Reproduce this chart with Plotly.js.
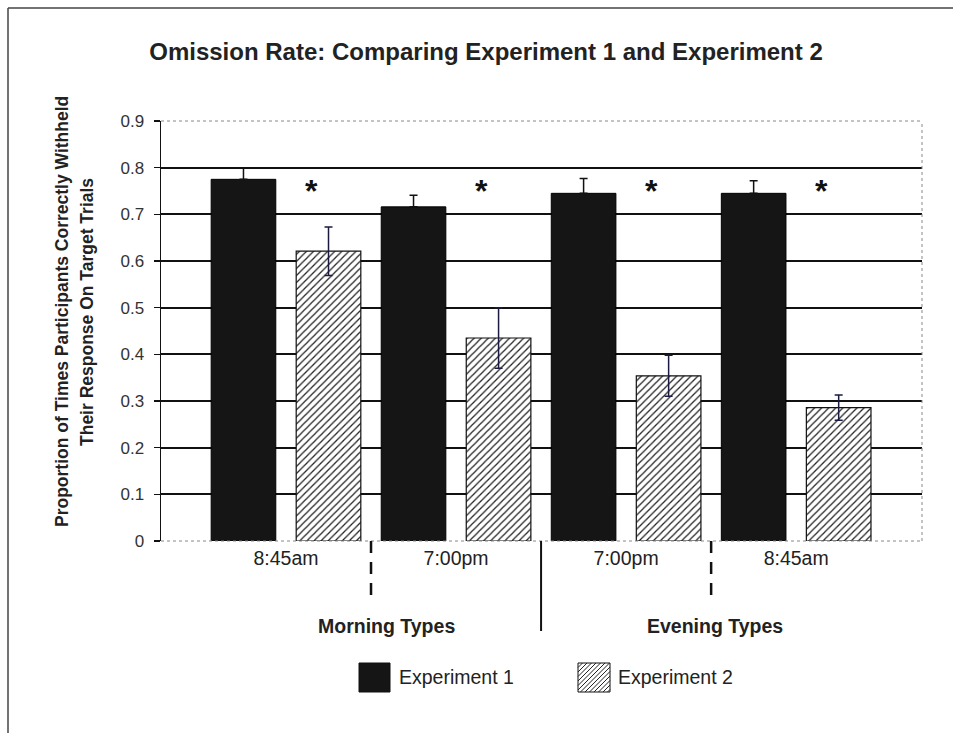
<!DOCTYPE html>
<html>
<head>
<meta charset="utf-8">
<script src="https://cdn.plot.ly/plotly-3.0.1.min.js"></script>
<style>html,body{margin:0;padding:0;background:#fff;}#chart{width:953px;height:733px;}</style>
</head>
<body>
<div id="chart"></div>
<script>
// ---- data ----
const timeLabels = ["8:45am", "7:00pm", "7:00pm", "8:45am"];
const groupLabels = ["Morning Types", "Evening Types"];
const seriesNames = ["Experiment 1", "Experiment 2"];
const exp1Values = [0.775, 0.716, 0.745, 0.745];
const exp1Errors = [0.025, 0.025, 0.032, 0.027];
const exp2Values = [0.621, 0.435, 0.354, 0.286];
const exp2Errors = [0.052, 0.065, 0.044, 0.027];
const significant = [true, true, true, true];
const starLevel = 0.756;
const yTicks = [0, 0.1, 0.2, 0.3, 0.4, 0.5, 0.6, 0.7, 0.8, 0.9];

const xIdx = timeLabels.map((_, i) => i);
const FONT = "Liberation Sans, Arial, sans-serif";

// geometry of plot area in pixels (for paper conversions)
const L = 161, R = 31, T = 121, B = 192, W = 953, H = 733;
const pw = W - L - R, ph = H - T - B;
const px = x => (x - L) / pw;
const py = y => (H - B - y) / ph;

const traces = [
  {
    type: "bar", name: seriesNames[0], x: xIdx, y: exp1Values,
    marker: {color: "#151515", line: {color: "#000", width: 1}},
    error_y: {type: "data", symmetric: false, array: exp1Errors, arrayminus: exp1Errors.map(() => 0),
      visible: true, color: "#111", thickness: 1.5, width: 4},
    showlegend: false, hoverinfo: "y"
  },
  {
    type: "bar", name: seriesNames[1], x: xIdx, y: exp2Values,
    marker: {color: "#ffffff", line: {color: "#111", width: 1.2},
             pattern: {shape: "/", size: 5, solidity: 0.25, fgcolor: "#222", bgcolor: "#ffffff", fillmode: "replace"}},
    error_y: {type: "data", array: exp2Errors, visible: true, color: "#1a1a40", thickness: 1.5, width: 4},
    showlegend: false, hoverinfo: "y"
  }
];

const shapes = [];
const annotations = [];

// plot border (dotted gray top/right/bottom)
shapes.push({type: "line", xref: "paper", yref: "paper", x0: 0, x1: 1, y0: 1, y1: 1, line: {color: "#888", width: 1, dash: "dot"}, layer: "above"});
shapes.push({type: "line", xref: "paper", yref: "paper", x0: 1, x1: 1, y0: 0, y1: 1, line: {color: "#888", width: 1, dash: "dot"}, layer: "above"});
shapes.push({type: "line", xref: "paper", yref: "paper", x0: 0, x1: 1, y0: 0, y1: 0, line: {color: "#888", width: 1, dash: "dot"}, layer: "above"});

// outer frame (top and left)
shapes.push({type: "line", xref: "paper", yref: "paper", x0: px(8), x1: px(960), y0: py(8), y1: py(8), line: {color: "#444", width: 1.5}});
shapes.push({type: "line", xref: "paper", yref: "paper", x0: px(8), x1: px(8), y0: py(8), y1: py(740), line: {color: "#444", width: 1.5}});

// separators between time categories
[0.5, 2.5].forEach(xv => shapes.push({type: "line", xref: "x", yref: "paper", x0: xv, x1: xv, y0: 0, y1: py(595),
  line: {color: "#111", width: 2.5, dash: "12px,9px"}}));
shapes.push({type: "line", xref: "x", yref: "paper", x0: 1.5, x1: 1.5, y0: 0, y1: py(631), line: {color: "#111", width: 2}});

// significance stars
xIdx.forEach((xv, i) => {
  if (significant[i]) annotations.push({x: xv + 0.15, y: starLevel, xref: "x", yref: "y", text: "*", showarrow: false,
    font: {family: FONT, size: 32, color: "#111", weight: "bold"}, yanchor: "middle", yshift: -3});
});

// group labels
annotations.push({x: 0.59, y: py(626), xref: "x", yref: "paper", text: "<b>" + groupLabels[0] + "</b>", showarrow: false,
  font: {family: FONT, size: 19.5, color: "#222"}, yanchor: "middle"});
annotations.push({x: 2.52, y: py(626), xref: "x", yref: "paper", text: "<b>" + groupLabels[1] + "</b>", showarrow: false,
  font: {family: FONT, size: 19.5, color: "#222"}, yanchor: "middle"});

// y axis title (two lines)
annotations.push({x: px(62), y: py(312), xref: "paper", yref: "paper", text: "<b>Proportion of Times Participants Correctly Withheld</b>",
  showarrow: false, textangle: -90, font: {family: FONT, size: 17.5, color: "#222"}, xanchor: "center", yanchor: "middle"});
annotations.push({x: px(87), y: py(312), xref: "paper", yref: "paper", text: "<b>Their Response On Target Trials</b>",
  showarrow: false, textangle: -90, font: {family: FONT, size: 17.5, color: "#222"}, xanchor: "center", yanchor: "middle"});

// legend (drawn manually with large swatches)
function sq(x0, y0, x1, y1, fill) {
  shapes.push({type: "rect", xref: "paper", yref: "paper", x0: px(x0), x1: px(x1), y0: py(y1), y1: py(y0),
    fillcolor: fill, line: {color: "#111", width: 1}});
}
sq(359, 663, 390, 692, "#151515");
sq(578, 663, 610, 692, "#ffffff");
// hatch lines in second swatch
(function () {
  const x0 = 578, x1 = 610, y0 = 663, y1 = 692, step = 4.5;
  let d = "";
  for (let c = x0 - (y1 - y0) + step; c < x1; c += step) {
    let ax = c, ay = y1, bx = c + (y1 - y0), by = y0;
    if (ax < x0) { ay -= (x0 - ax); ax = x0; }
    if (bx > x1) { by += (bx - x1); bx = x1; }
    d += "M" + px(ax) + "," + py(ay) + "L" + px(bx) + "," + py(by);
  }
  shapes.push({type: "path", xref: "paper", yref: "paper", path: d, line: {color: "#222", width: 1}});
})();
annotations.push({x: px(397), y: py(677), xref: "paper", yref: "paper", text: seriesNames[0], showarrow: false,
  font: {family: FONT, size: 19.5, color: "#222"}, xanchor: "left", yanchor: "middle"});
annotations.push({x: px(616), y: py(677), xref: "paper", yref: "paper", text: seriesNames[1], showarrow: false,
  font: {family: FONT, size: 19.5, color: "#222"}, xanchor: "left", yanchor: "middle"});

const layout = {
  width: W, height: H,
  margin: {l: L, r: R, t: T, b: B, pad: 0},
  paper_bgcolor: "#ffffff", plot_bgcolor: "#ffffff",
  title: {text: "<b>Omission Rate: Comparing Experiment 1 and Experiment 2</b>", x: px(486), xref: "paper", xanchor: "center",
    y: 1 - 52 / H, yref: "container", yanchor: "middle", font: {family: FONT, size: 24, color: "#222"}},
  barmode: "group", bargap: 0, bargroupgap: 0.24,
  showlegend: false,
  xaxis: {
    range: [-0.735, 3.74], tickvals: xIdx, ticktext: timeLabels, ticks: "", showgrid: false, zeroline: false,
    showline: false, tickfont: {family: FONT, size: 19.5, color: "#222"}, ticklabelstandoff: 3, fixedrange: true
  },
  yaxis: {
    range: [0, 0.9], tickvals: yTicks, ticktext: yTicks.map(v => v === 0 ? "0" : v.toFixed(1)),
    ticks: "outside", ticklen: 6, tickcolor: "#111", tickwidth: 1.2,
    showgrid: true, gridcolor: "#111", gridwidth: 2, zeroline: false,
    showline: true, linecolor: "#111", linewidth: 1.5,
    tickfont: {family: FONT, size: 17, color: "#333"}, ticklabelstandoff: 6, fixedrange: true
  },
  shapes: shapes,
  annotations: annotations
};

Plotly.newPlot("chart", traces, layout, {displayModeBar: false, staticPlot: true});
</script>
</body>
</html>
